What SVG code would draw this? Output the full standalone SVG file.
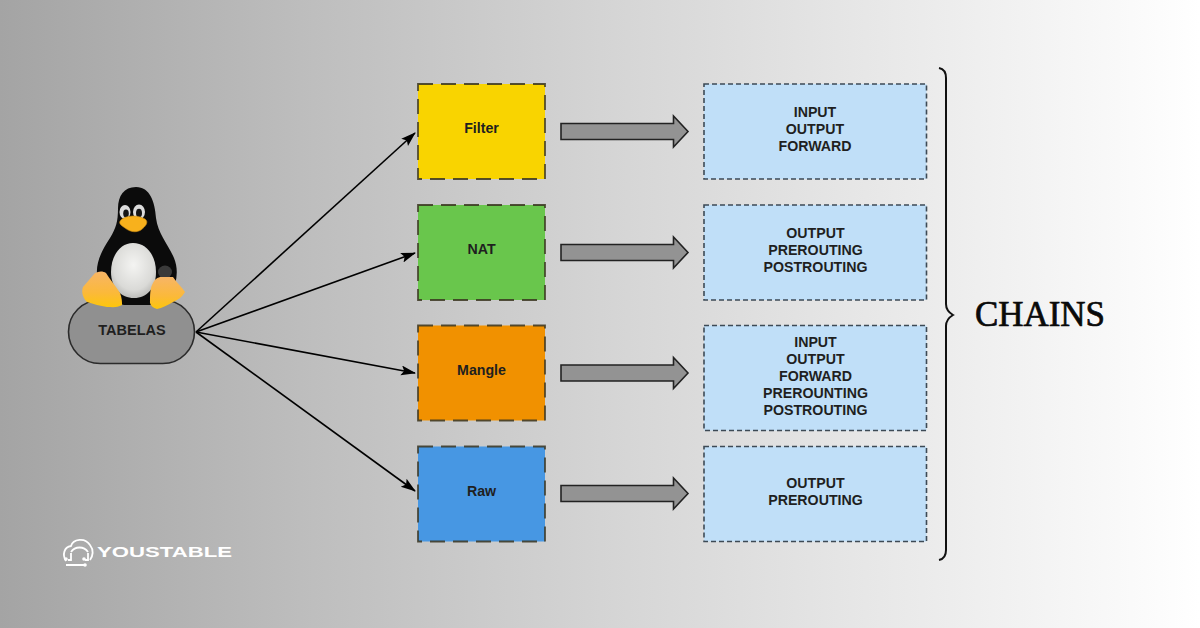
<svg xmlns="http://www.w3.org/2000/svg" width="1200" height="628" viewBox="0 0 1200 628">
<style>
.lbl{font-family:"Liberation Sans",Arial,sans-serif;font-weight:700;font-size:14.200px;fill:#1f1f1f;text-anchor:middle}
.tbl{stroke:#3a3520;stroke-opacity:.85;stroke-width:1.800;stroke-dasharray:15 8}
.chn{fill:#c0dff8;stroke:#3d4a55;stroke-width:1.600;stroke-dasharray:5 3}
.blk{fill:#939393;stroke:#222;stroke-width:1.600}
.con{stroke:#000;stroke-width:1.600;fill:none;marker-end:url(#ah)}
</style>
<defs>
<linearGradient id="bg" x1="0" x2="1" y1="0" y2="0">
<stop offset="0" stop-color="#a4a4a4"/><stop offset=".25" stop-color="#bdbdbd"/><stop offset=".5" stop-color="#d4d4d4"/><stop offset=".78" stop-color="#ececec"/><stop offset=".92" stop-color="#f8f8f8"/><stop offset="1" stop-color="#fff"/>
</linearGradient>
<marker id="ah" markerUnits="userSpaceOnUse" markerWidth="16" markerHeight="12" refX="14" refY="5" orient="auto"><path d="M0 0L15 5L0 10L3 5Z" fill="#000"/></marker>
<radialGradient id="belly" cx=".5" cy=".4" r=".65"><stop offset="0" stop-color="#f4f4f2"/><stop offset=".7" stop-color="#dadad7"/><stop offset="1" stop-color="#b4b4b1"/></radialGradient>
<linearGradient id="foot" x1="0" x2="0" y1="0" y2="1"><stop offset="0" stop-color="#f7b566"/><stop offset=".6" stop-color="#fbb93a"/><stop offset="1" stop-color="#fdc60c"/></linearGradient>
</defs>
<rect width="1200" height="628" fill="url(#bg)"/>
<g id="connectors">
<path class="con" d="M196 332L415 133"/>
<path class="con" d="M196 332L415 253"/>
<path class="con" d="M196 332L415 373"/>
<path class="con" d="M196 332L415 491"/>
<g id="block-arrows">
<path class="blk" d="M561 123.500H673.500V116L688 131.500L673.500 147V139.500H561Z"/>
<path class="blk" d="M561 244.500H673.500V237L688 252.500L673.500 268V260.500H561Z"/>
<path class="blk" d="M561 365H673.500V357.500L688 373L673.500 388.500V381H561Z"/>
<path class="blk" d="M561 485.500H673.500V478L688 493.500L673.500 509V501.500H561Z"/>
</g>
</g>
<g id="tabelas">
<rect x="68.500" y="300" width="126" height="63.500" rx="31.700" fill="#909090" stroke="#2b2b2b" stroke-width="1.600"/>
<text class="lbl" x="132" y="334.500" style="font-size:14.500px">TABELAS</text>
</g>
<g id="penguin">
<path d="M136 187C124 187 118 196 118 208C118 222 116 228 110 238C102 250 96 262 97 274C98 284 104 294 112 302L124 305H150L170 296C177 284 179 270 174 258C168 244 158 234 156 218C155 202 150 187 136 187Z" fill="#0b0b0b"/>
<path d="M133 243C120 243 111 256 111 272C111 288 121 298 134 298C147 298 156 288 156 272C156 256 147 243 133 243Z" fill="url(#belly)"/>
<ellipse cx="125" cy="212" rx="5.500" ry="7" fill="#dcdcdc"/><ellipse cx="139" cy="212" rx="6" ry="7.500" fill="#dcdcdc"/>
<ellipse cx="126" cy="213.500" rx="2.800" ry="4" fill="#151515"/><ellipse cx="139" cy="213" rx="3" ry="4.300" fill="#151515"/>
<path d="M122 219C128 215 138 215 145 219C149 222 146 226 141 230C136 233 130 232 125 228C121 225 117 223 122 219Z" fill="#f8b11c" stroke="#c98a10" stroke-width=".6"/>
<ellipse cx="165" cy="272" rx="7" ry="6.500" fill="#3a3a3a"/>
<path d="M83 287L95 273C99 271 103 271 106 273C110 280 116 286 120 293C122 298 122 302 122 305C117 308 112 307 107 307C100 306 94 304 87 302C83 298 81 292 83 287Z" fill="url(#foot)"/>
<path d="M150 303C150 295 150 288 153 283C155 279 157 278 160 277L173 277C177 283 182 287 185 292C182 297 178 300 173 302C168 305 162 308 157 309C153 308 151 306 150 303Z" fill="url(#foot)"/>
</g>
<g id="filter"><rect class="tbl" x="418" y="84" width="127" height="95" fill="#f9d400"/><text class="lbl" x="481.500" y="133">Filter</text></g>
<g id="nat"><rect class="tbl" x="418" y="205" width="127" height="95" fill="#69c64c"/><text class="lbl" x="481.500" y="254">NAT</text></g>
<g id="mangle"><rect class="tbl" x="418" y="325.500" width="127" height="95" fill="#f19100"/><text class="lbl" x="481.500" y="375">Mangle</text></g>
<g id="raw"><rect class="tbl" x="418" y="446.500" width="127" height="95" fill="#4797e3"/><text class="lbl" x="481.500" y="495.500">Raw</text></g>
<g id="chain1"><rect class="chn" x="704" y="84" width="222.500" height="95"/><text class="lbl" x="815" y="116.500">INPUT</text><text class="lbl" x="815" y="133.500">OUTPUT</text><text class="lbl" x="815" y="151">FORWARD</text></g>
<g id="chain2"><rect class="chn" x="704" y="205" width="222.500" height="95"/><text class="lbl" x="815.500" y="237.500">OUTPUT</text><text class="lbl" x="815.500" y="254.500">PREROUTING</text><text class="lbl" x="815.500" y="272">POSTROUTING</text></g>
<g id="chain3"><rect class="chn" x="704" y="325.500" width="222.500" height="105"/><text class="lbl" x="815.500" y="346.500">INPUT</text><text class="lbl" x="815.500" y="363.500">OUTPUT</text><text class="lbl" x="815.500" y="380.500">FORWARD</text><text class="lbl" x="815.500" y="398">PREROUNTING</text><text class="lbl" x="815.500" y="415">POSTROUTING</text></g>
<g id="chain4"><rect class="chn" x="704" y="446.500" width="222.500" height="95"/><text class="lbl" x="815.500" y="488">OUTPUT</text><text class="lbl" x="815.500" y="505">PREROUTING</text></g>
<g id="brace">
<path d="M939 68C944 69 946 72 946 78V304C946 309 948 312 953 315C948 318 946 321 946 326V550C946 556 944 559 939 560" fill="none" stroke="#111" stroke-width="2"/>
</g>
<text id="chains" x="975" y="325.500" font-family="'Liberation Serif','Times New Roman',serif" font-size="35" fill="#0a0a0a" textLength="130" lengthAdjust="spacingAndGlyphs" stroke="#0a0a0a" stroke-width=".7">CHAINS</text>
<g id="logo">
<path d="M66 561C62 555 64 547 71 546C73 539 85 537 90 545C94 550 93 556 90 560M71 552C75 546 84 546 88 552" fill="none" stroke="#fff" stroke-width="1.800"/>
<path d="M68 560H71V553M88 553V560H85M66 565H84" fill="none" stroke="#fff" stroke-width="1.800"/>
<circle cx="66" cy="559" r="1.800" fill="#fff"/><circle cx="84" cy="559" r="1.800" fill="#fff"/><circle cx="85" cy="565" r="1.800" fill="#fff"/>
<text x="97" y="557" font-family="'Liberation Sans',Arial,sans-serif" font-size="15.500" font-weight="700" fill="#fff" textLength="135" lengthAdjust="spacingAndGlyphs">YOUSTABLE</text>
</g>
</svg>
